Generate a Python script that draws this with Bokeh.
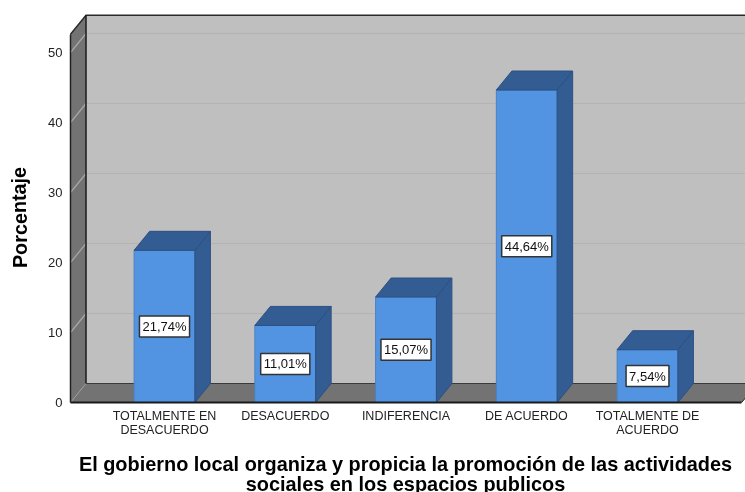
from bokeh.plotting import figure
from bokeh.models import ColumnDataSource, Label, Range1d, FixedTicker
from bokeh.core.properties import value
from bokeh.embed import file_html
from bokeh.resources import INLINE

categories = ["TOTALMENTE EN\nDESACUERDO", "DESACUERDO", "INDIFERENCIA", "DE ACUERDO", "TOTALMENTE DE\nACUERDO"]
values = [21.74, 11.01, 15.07, 44.64, 7.54]
value_labels = ["21,74%", "11,01%", "15,07%", "44,64%", "7,54%"]
y_ticks = [0, 10, 20, 30, 40, 50]
x_title = "El gobierno local organiza y propicia la promoción de las actividades\nsociales en los espacios publicos"
y_title = "Porcentaje"

W, H = 745, 492
PX_X = 120.75
PX_Y = 7.0
AXIS_PX = 70
ZERO_PX = 402
FIRST_PX = 164
X_MIN = -FIRST_PX / PX_X
X_MAX = (W - FIRST_PX) / PX_X
Y_MIN = (ZERO_PX - H) / PX_Y
Y_MAX = ZERO_PX / PX_Y
X0 = (AXIS_PX - FIRST_PX) / PX_X
DX = 15.5 / PX_X
DY = 19 / PX_Y
HALF = 30.4 / PX_X
WALL_TOP = 52.6
FLOOR_END = 4.78

p = figure(width=W, height=H, output_backend="svg", toolbar_location=None,
           x_range=Range1d(X_MIN, X_MAX), y_range=Range1d(Y_MIN, Y_MAX),
           min_border_left=0, min_border_right=0, min_border_top=0, min_border_bottom=0,
           outline_line_color=None, background_fill_color="white")
p.styles = {"position": "fixed", "left": "0px", "top": "0px"}
p.grid.visible = False

# walls
p.quad(left=X0 + DX, right=X_MAX + 1, bottom=DY, top=WALL_TOP + DY, fill_color="#bfbfbf", line_color=None)
p.patch([X0, X0 + DX, X0 + DX, X0], [WALL_TOP, WALL_TOP + DY, DY, 0], fill_color="#737373", line_color=None)
p.patch([X0, X0 + DX, FLOOR_END + DX, FLOOR_END], [0, DY, DY, 0], fill_color="#737373", line_color=None)

# grid lines, on the back wall and the side wall
p.segment(x0=[X0 + DX] * 5, y0=[t + DY for t in y_ticks[1:]], x1=[X_MAX + 1] * 5, y1=[t + DY for t in y_ticks[1:]],
          line_color="#b3b3b3", line_width=1.2)
p.segment(x0=[X0] * 5, y0=y_ticks[1:], x1=[X0 + DX] * 5, y1=[t + DY for t in y_ticks[1:]],
          line_color="#a8a8a8", line_width=1.2)

# wall edges
p.line([X0, X0 + DX, X_MAX + 1], [WALL_TOP, WALL_TOP + DY, WALL_TOP + DY], line_color="#2b2b2b", line_width=1.5)
p.line([X0 + DX, X0 + DX], [DY, WALL_TOP + DY], line_color="#1a1a1a", line_width=1.5)
p.line([X0, X0 + DX], [0, DY], line_color="#9a9a9a", line_width=1)
p.line([X0 + DX, X_MAX + 1], [DY, DY], line_color="#3a3a3a", line_width=1)
p.line([FLOOR_END, FLOOR_END + DX], [0, DY], line_color="#2b2b2b", line_width=1)

# bars
xs = list(range(len(values)))
p.quad(left=[x - HALF for x in xs], right=[x + HALF for x in xs], bottom=0, top=values,
       fill_color="#5294e2", line_color="#4a80c4", line_width=1)
p.patches([[x + HALF, x + HALF + DX, x + HALF + DX, x + HALF] for x in xs],
          [[0, DY, v + DY, v] for v in values],
          fill_color="#325c92", line_color="#2c5082", line_width=1)
p.patches([[x - HALF, x - HALF + DX, x + HALF + DX, x + HALF] for x in xs],
          [[v, v + DY, v + DY, v] for v in values],
          fill_color="#325c92", line_color="#2c5082", line_width=1)

# value labels
src = ColumnDataSource(dict(x=xs, y=[v / 2 for v in values], t=value_labels))
p.text(x="x", y="y", text="t", source=src, text_align="center", text_baseline="middle",
       text_font=value("Liberation Sans"), text_font_size="13px", text_color="#111111",
       background_fill_color="white", border_line_color="#333333", border_line_width=1.5,
       padding=3)

# axes, fixed inside the frame
ax = p.xaxis[0]
ax.fixed_location = 0
ax.ticker = FixedTicker(ticks=xs)
ax.major_label_overrides = {i: c for i, c in enumerate(categories)}
ax.major_tick_line_color = None
ax.minor_tick_line_color = None
ax.major_tick_out = 0
ax.major_label_standoff = 6
ax.major_label_text_font = "Liberation Sans"
ax.major_label_text_font_size = "12.5px"
ax.major_label_text_line_height = 1.05
ax.major_label_text_color = "#222222"
ax.axis_line_color = "#1a1a1a"
ax.axis_line_width = 2
ax.bounds = (X0, FLOOR_END)

ay = p.yaxis[0]
ay.fixed_location = X0
ay.ticker = FixedTicker(ticks=y_ticks)
ay.major_tick_line_color = None
ay.minor_tick_line_color = None
ay.major_tick_out = 0
ay.major_label_standoff = 8
ay.major_label_text_font = "Liberation Sans"
ay.major_label_text_font_size = "13px"
ay.major_label_text_color = "#222222"
ay.axis_line_color = "#222222"
ay.axis_line_width = 1.5
ay.bounds = (0, WALL_TOP)

# axis titles
p.add_layout(Label(x=19, y=H - 217, x_units="screen", y_units="screen", text=y_title, angle=1.5708,
                   text_align="center", text_baseline="middle", text_font="Liberation Sans",
                   text_font_size="19.8px", text_font_style="bold", text_color="black"))
p.add_layout(Label(x=405, y=H - 452, x_units="screen", y_units="screen", text=x_title,
                   text_align="center", text_baseline="top", text_font="Liberation Sans",
                   text_font_size="19.9px", text_font_style="bold", text_color="black",
                   text_line_height=0.95))

open("out.html", "w").write(file_html(p, INLINE))
